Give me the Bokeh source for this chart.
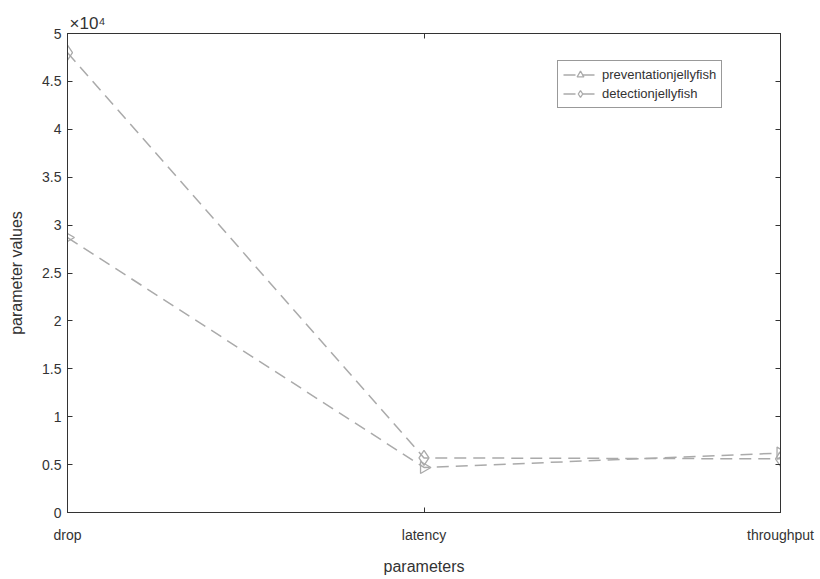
import math
from bokeh.plotting import figure
from bokeh.models import (Legend, LegendItem, LinearAxis, FixedTicker, Range1d)
from bokeh.embed import file_html
from bokeh.resources import INLINE

categories = ["drop", "latency", "throughput"]
prevention = [28700, 4700, 6200]
detection = [48000, 5700, 5600]
y_ticks = [0, 5000, 10000, 15000, 20000, 25000, 30000, 35000, 40000, 45000, 50000]
y_tick_labels = ["0", "0.5", "1", "1.5", "2", "2.5", "3", "3.5", "4", "4.5", "5"]

x = list(range(1, len(categories) + 1))
FONT = "Liberation Sans"
AX = "#333333"
LINE = "#aaaaaa"

p = figure(width=820, height=579, output_backend="svg", toolbar_location=None,
           x_range=Range1d(1, 3), y_range=Range1d(0, 50000),
           min_border_left=67, min_border_right=40, min_border_top=33, min_border_bottom=67)
p.outline_line_color = AX
p.outline_line_width = 1
p.xgrid.visible = False
p.ygrid.visible = False

p.title.text = "×10⁴"
p.title.text_font = FONT
p.title.text_font_size = "17px"
p.title.text_font_style = "normal"
p.title.text_color = AX
p.title.offset = 2
p.title.standoff = 2

for ax in (p.xaxis[0], p.yaxis[0]):
    ax.major_tick_in = 5
    ax.major_tick_out = 0
    ax.minor_tick_in = 0
    ax.minor_tick_out = 0
    ax.axis_line_color = AX
    ax.major_tick_line_color = AX
    ax.major_label_text_color = AX
    ax.major_label_text_font = FONT
    ax.major_label_text_font_size = "14px"
    ax.axis_label_text_font = FONT
    ax.axis_label_text_font_size = "16px"
    ax.axis_label_text_font_style = "normal"
    ax.axis_label_text_color = AX

p.xaxis[0].ticker = FixedTicker(ticks=x)
p.xaxis[0].major_label_overrides = {xi: c for xi, c in zip(x, categories)}
p.xaxis[0].axis_label = "parameters"
p.xaxis[0].major_label_standoff = 14
p.xaxis[0].axis_label_standoff = 12
p.yaxis[0].ticker = FixedTicker(ticks=y_ticks)
p.yaxis[0].major_label_overrides = {t: l for t, l in zip(y_ticks, y_tick_labels)}
p.yaxis[0].axis_label = "parameter values"
p.yaxis[0].major_label_standoff = 6
p.yaxis[0].axis_label_standoff = 14

# right and top axes (ticks only)
ra = LinearAxis(ticker=FixedTicker(ticks=y_ticks), major_label_overrides={t: "" for t in y_ticks},
                major_tick_in=5, major_tick_out=0, minor_tick_in=0, minor_tick_out=0,
                axis_line_color=AX, major_tick_line_color=AX)
ta = LinearAxis(ticker=FixedTicker(ticks=x), major_label_overrides={t: "" for t in x},
                major_tick_in=5, major_tick_out=0, minor_tick_in=0, minor_tick_out=0,
                axis_line_color=AX, major_tick_line_color=AX)
p.add_layout(ra, "right")
p.add_layout(ta, "above")

l1 = p.line(x, prevention, line_color=LINE, line_width=1.5, line_dash="12 7")
m1 = p.scatter(x, prevention, marker="triangle", angle=-math.pi / 2, size=12,
               line_color=LINE, fill_color=None, line_width=1.3)
l2 = p.line(x, detection, line_color=LINE, line_width=1.5, line_dash="12 7")
m2 = p.scatter(x, detection, marker="diamond", size=15,
               line_color=LINE, fill_color=None, line_width=1.3)

legend = Legend(items=[LegendItem(label="preventationjellyfish", renderers=[l1, m1]),
                       LegendItem(label="detectionjellyfish", renderers=[l2, m2])],
                border_line_color=AX, border_line_width=1,
                label_text_font=FONT, label_text_font_size="13px", label_text_color=AX,
                glyph_width=34, glyph_height=17, spacing=2, padding=5, margin=0,
                label_standoff=5, background_fill_alpha=1)
p.add_layout(legend, "center")
legend.location = (490, 404)

open("out.html", "w").write(file_html(p, INLINE))
